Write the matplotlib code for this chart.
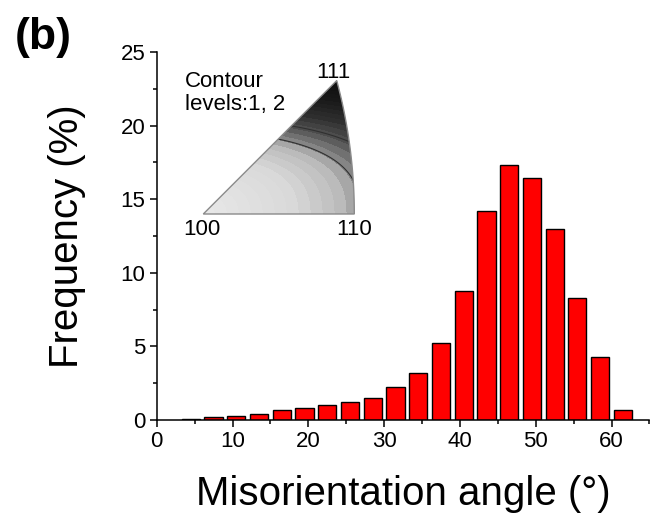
import numpy as np
import matplotlib.pyplot as plt
from matplotlib.path import Path
from matplotlib.patches import PathPatch
from matplotlib.ticker import MultipleLocator
from matplotlib.colors import LinearSegmentedColormap

plt.rcParams['font.family'] = ['Liberation Sans', 'DejaVu Sans']

# misorientation histogram, 3 deg bins
angle_centers = [4.5, 7.5, 10.5, 13.5, 16.5, 19.5, 22.5, 25.5, 28.5, 31.5,
                 34.5, 37.5, 40.5, 43.5, 46.5, 49.5, 52.5, 55.5, 58.5, 61.5]
frequency = [0.05, 0.18, 0.3, 0.41, 0.68, 0.84, 1.0, 1.2, 1.48, 2.25,
             3.16, 5.2, 8.75, 14.18, 17.32, 16.43, 12.98, 8.27, 4.27, 0.7]
x_ticks = [0, 10, 20, 30, 40, 50, 60]
y_ticks = [0, 5, 10, 15, 20, 25]

# inset: rotation axis distribution in the standard triangle
pole_labels = ['100', '110', '111']
contour_levels = [0.437, 0.546]
shade_stops = [(0, 0.91), (0.25, 0.85), (0.40, 0.72), (0.44, 0.55), (0.5, 0.4),
               (0.55, 0.3), (0.65, 0.18), (0.8, 0.1), (1.0, 0.05)]

W, H = 652, 520
fig = plt.figure(figsize=(W / 100, H / 100), dpi=100)
ax = fig.add_axes([156.7 / W, (H - 420) / H, 492.7 / W, 368 / H])

ax.bar(angle_centers, frequency, width=2.4, color='#ff0000',
       edgecolor='black', linewidth=1.0, zorder=2)
ax.set_xlim(0, 65)
ax.set_ylim(0, 25)
ax.set_xticks(x_ticks)
ax.set_yticks(y_ticks)
ax.xaxis.set_minor_locator(MultipleLocator(5))
ax.yaxis.set_minor_locator(MultipleLocator(2.5))
ax.tick_params(which='major', direction='out', length=5, width=1.1, labelsize=16, pad=3)
ax.tick_params(which='minor', direction='out', length=3, width=1.1)
for s in ['top', 'right']:
    ax.spines[s].set_visible(False)
for s in ['left', 'bottom']:
    ax.spines[s].set_linewidth(1.1)

ax.set_xlabel('Misorientation angle (°)', fontsize=29, va='center')
ax.xaxis.set_label_coords(0.5, (420 - 494) / 368)
ax.set_ylabel('Frequency (%)', fontsize=29, va='center')
ax.yaxis.set_label_coords((67 - 156.7) / 492.7, 0.5)

fig.text(15 / W, 1 - 37 / H, '(b)', fontsize=32, fontweight='bold',
         ha='left', va='center')

# inset axes, 1 unit = 151 px, origin at 100 pole
ax_in = fig.add_axes([190 / W, (H - 222) / H, 175 / W, 154 / H])
ax_in.set_xlim((190 - 203.3) / 151, (365 - 203.3) / 151)
ax_in.set_ylim((214 - 222) / 151, (214 - 68) / 151)
ax_in.axis('off')
ax_in.patch.set_alpha(0)

t = np.tan(np.pi / 8)
p111 = (1 / (1 + np.sqrt(3))) / t
cx, R = -1 / t, np.sqrt(2) / t
th = np.linspace(0, np.arctan2(p111, p111 - cx), 40)
arc = np.column_stack([cx + R * np.cos(th), R * np.sin(th)])
verts = np.vstack([[0, 0], arc, [p111, p111], [0, 0]])
codes = [Path.MOVETO] + [Path.LINETO] * (len(verts) - 2) + [Path.CLOSEPOLY]
tri = PathPatch(Path(verts, codes), facecolor='none', edgecolor='#8a8a8a', lw=1.0, zorder=3)
ax_in.add_patch(tri)

gu, gv = np.meshgrid(np.linspace(0, 1.05, 400), np.linspace(0, 0.95, 400))
field = np.hypot(gu, gv * (1 + 1.5 * gv / p111))
field = field / np.hypot(p111, 2.5 * p111)
cmap = LinearSegmentedColormap.from_list('ipf', [(p, (g, g, g)) for p, g in shade_stops])
cf = ax_in.contourf(gu, gv, field, levels=np.linspace(0, 1, 31), cmap=cmap,
                    vmin=0, vmax=1, extend='max')
cf.set_clip_path(tri)
cs = ax_in.contour(gu, gv, field, levels=contour_levels, colors='#303030', linewidths=0.8)
cs.set_clip_path(tri)

ax_in.text(-0.012, -0.103, pole_labels[0], fontsize=16, ha='center', va='center', clip_on=False)
ax_in.text(1.001, -0.103, pole_labels[1], fontsize=16, ha='center', va='center', clip_on=False)
ax_in.text(0.859, 0.937, pole_labels[2], fontsize=16, ha='center', va='center', clip_on=False)
ax_in.text(-0.121, 0.95, 'Contour\nlevels:1, 2', fontsize=16, ha='left', va='top',
           linespacing=1.15, clip_on=False)

fig.savefig('out.png', dpi=100)
